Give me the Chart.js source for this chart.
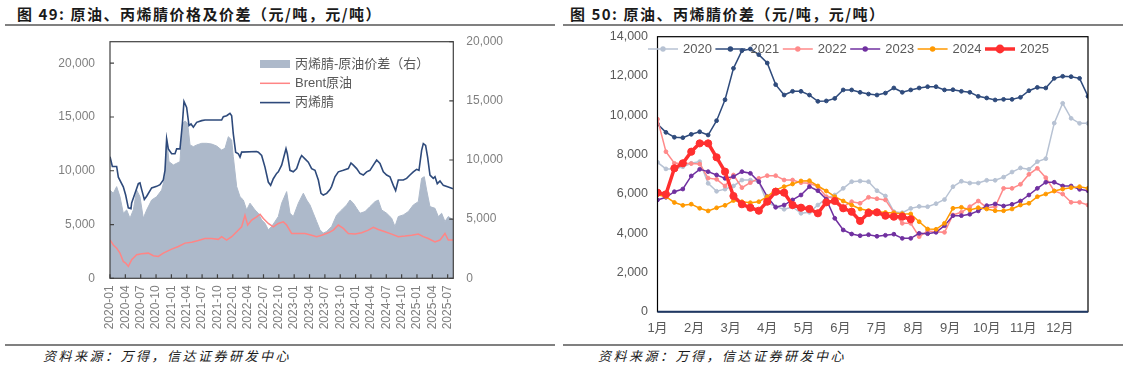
<!DOCTYPE html>
<html>
<head>
<meta charset="utf-8">
<script src="https://cdn.jsdelivr.net/npm/chart.js@4.4.1/dist/chart.umd.min.js"></script>
<style>
  body { margin: 0; width: 1123px; height: 369px; background: #fff; position: relative; overflow: hidden; font-family: "Noto Sans CJK SC", sans-serif; }
  .title { position: absolute; top: 4px; font-size: 15px; font-weight: bold; color: #1a1a1a; letter-spacing: 1.5px; line-height: 20px; white-space: nowrap; }
  .rule { position: absolute; height: 2px; background: #808080; }
  .src { position: absolute; top: 347px; font-size: 13px; font-style: italic; color: #1a1a1a; letter-spacing: 2.5px; line-height: 18px; white-space: nowrap; }
  canvas { position: absolute; }
</style>
</head>
<body>
<div class="title" style="left:17px">图 49: 原油、丙烯腈价格及价差（元/吨，元/吨）</div>
<div class="title" style="left:570px">图 50: 原油、丙烯腈价差（元/吨，元/吨）</div>
<div class="rule" style="left:5px; width:550px; top:24px"></div>
<div class="rule" style="left:563px; width:560px; top:24px"></div>
<canvas id="priceChart" width="560" height="315" style="left:0; top:30px"></canvas>
<canvas id="diffChart" width="558" height="317" style="left:565px; top:28px"></canvas>
<div class="rule" style="left:5px; width:550px; top:344px; height:1.5px"></div>
<div class="rule" style="left:563px; width:560px; top:344px; height:1.5px"></div>
<div class="src" style="left:43px">资料来源：万得，信达证券研发中心</div>
<div class="src" style="left:598px">资料来源：万得，信达证券研发中心</div>
<script>
// ---- 图49: prices (months counted from 2020-01) ----
const dateLabels = ['2020-01', '2020-04', '2020-07', '2020-10', '2021-01', '2021-04', '2021-07', '2021-10',
  '2022-01', '2022-04', '2022-07', '2022-10', '2023-01', '2023-04', '2023-07', '2023-10',
  '2024-01', '2024-04', '2024-07', '2024-10', '2025-01', '2025-04', '2025-07'];
const priceTicks = [0, 5000, 10000, 15000, 20000];
const spreadTicks = [0, 5000, 10000, 15000, 20000];

const acrnMonth = [0, 0.46, 1.3, 1.63, 2.6, 3.06, 3.58, 4.1, 4.23, 4.89, 5.54, 5.86, 6.19, 6.71, 7.17, 8.14, 9.12, 9.77, 10.42, 10.75,
  11.07, 11.4, 12.05, 12.7, 13.03, 13.68, 14.14, 14.46, 14.98, 15.44, 15.83, 16.29, 16.94, 17.92, 18.57, 21.82, 22.15, 22.8, 23.45, 23.78,
  24.1, 24.56, 25.08, 25.41, 25.73, 28.66, 28.99, 29.64, 30.29, 30.94, 31.4, 31.92, 32.57, 32.9, 33.55, 34.4, 34.66, 35.18, 35.83, 36.48,
  37.13, 37.46, 38.11, 38.76, 39.41, 40.07, 40.72, 41.24, 41.69, 42.35, 43.0, 43.32, 43.97, 44.63, 45.6, 46.58, 47.1, 47.56, 48.21, 48.86,
  49.51, 50.16, 50.81, 51.47, 52.12, 52.77, 53.42, 54.07, 54.72, 55.37, 55.83, 56.35, 57.33, 57.98, 58.63, 59.28, 59.93, 60.39, 60.91, 61.24,
  61.69, 62.08, 62.54, 63.19, 63.52, 63.97, 64.5, 65.15, 66.12, 67.04];
const acrnPrice = [11300, 10400, 10400, 9400, 8500, 7740, 6550, 6480, 7000, 7900, 8800, 8870, 8250, 7330, 7630, 8400, 8550, 8700, 9140, 10040,
  12960, 12030, 11580, 11580, 12030, 12030, 14350, 16450, 15890, 14200, 14350, 14050, 14500, 14660, 14720, 14720, 15030, 15120, 15340, 15120,
  13420, 11730, 11580, 11270, 11730, 11790, 11730, 11420, 10340, 8950, 8640, 9260, 9750, 9900, 10520, 12050, 11580, 10040, 9900, 10200,
  11110, 11420, 11110, 10800, 10200, 10040, 9140, 7900, 7740, 7900, 8250, 8550, 9440, 9900, 10040, 10200, 10720, 10520, 10200, 9750,
  9600, 9900, 10040, 10520, 11000, 10690, 9900, 9600, 9440, 8640, 8150, 9140, 9140, 9290, 9600, 9900, 10130, 10040, 11900, 12520,
  12360, 11270, 9600, 9290, 9440, 8800, 9050, 8640, 8500, 8330];

const brentMonth = [0, 0.65, 1.3, 1.95, 2.6, 3.06, 3.58, 4.23, 5.21, 6.19, 7.49, 8.47, 9.45, 10.42, 12.05, 13.36, 14.66, 15.96, 17.26, 18.57,
  19.87, 21.17, 21.82, 22.8, 23.78, 24.76, 25.73, 26.38, 26.91, 27.69, 28.66, 29.32, 29.97, 30.94, 31.92, 32.9, 33.88, 34.53, 35.5, 36.81,
  38.11, 39.41, 40.39, 41.37, 42.67, 43.65, 44.63, 45.6, 46.58, 47.88, 49.19, 50.49, 51.47, 52.44, 53.75, 55.05, 56.35, 57.65, 58.96, 60.26,
  61.24, 62.21, 63.52, 64.5, 65.47, 66.12, 67.04];
const brentPrice = [3560, 3100, 2800, 2340, 1570, 1420, 1110, 1720, 2190, 2280, 2340, 2100, 2030, 2340, 2710, 2960, 3270, 3360, 3520, 3700,
  3700, 3620, 3870, 3560, 3870, 4330, 4790, 5870, 4950, 5410, 5720, 5960, 5560, 5100, 4790, 5100, 5250, 4950, 4170, 4170,
  4170, 4010, 3870, 4010, 4230, 4480, 4950, 4640, 4170, 4110, 4230, 4480, 4730, 4540, 4330, 4110, 3870, 3930, 4010, 4110,
  3870, 3700, 3390, 3560, 4170, 3560, 3560];

const spreadMonth = [0, 0.65, 1.3, 1.95, 2.6, 3.26, 3.91, 4.56, 5.21, 5.86, 6.51, 7.17, 8.14, 9.12, 10.1, 10.75, 11.07, 11.53, 12.38, 13.03,
  13.68, 14.14, 14.66, 15.18, 15.64, 16.29, 16.94, 17.92, 18.89, 19.87, 20.85, 21.82, 22.48, 23.13, 23.78, 24.1, 24.76, 25.41, 26.06, 26.71,
  27.36, 28.34, 28.99, 29.64, 30.29, 30.94, 31.6, 32.25, 32.9, 33.55, 34.53, 35.18, 35.83, 36.81, 37.79, 38.44, 39.09, 39.74, 40.39, 41.04,
  41.69, 42.35, 43.32, 44.3, 45.28, 46.25, 46.91, 47.56, 48.21, 48.86, 49.84, 50.81, 51.79, 52.44, 53.09, 54.07, 55.05, 55.7, 56.35, 57.33,
  58.31, 59.28, 60.26, 60.91, 61.43, 61.89, 62.54, 63.52, 64.17, 64.82, 65.47, 66.12, 67.04];
const spreadValue = [7460, 7190, 7750, 6900, 5500, 5780, 5080, 5780, 7460, 6900, 5080, 5780, 6620, 6900, 7460, 8590, 11830, 9860, 9580, 9720,
  9860, 13090, 13300, 13100, 11270, 11130, 11270, 11410, 11410, 11350, 11180, 10840, 10990, 11970, 11690, 10280, 7750, 6900, 6620, 5780,
  6350, 5780, 5500, 4940, 4660, 4100, 4380, 4800, 5220, 6350, 7330, 5500, 5220, 6350, 7190, 6620, 6200, 5500, 4800, 4100,
  3820, 3960, 4380, 5360, 5780, 6200, 6620, 6350, 5920, 5500, 5640, 6060, 6480, 6620, 5780, 5500, 5080, 4380, 5220, 5360,
  5640, 6200, 6480, 8450, 8590, 7460, 6060, 5920, 5220, 5500, 4800, 5220, 4940];

// ---- 图50: weekly spread by year ----
const monthLabels = ['1月', '2月', '3月', '4月', '5月', '6月', '7月', '8月', '9月', '10月', '11月', '12月'];
const weeksPerMonth = 52 / 12;
const diffTicks = [0, 2000, 4000, 6000, 8000, 10000, 12000, 14000];
const years = ['2020', '2021', '2022', '2023', '2024', '2025'];
const y2020 = [7605, 7270, 7270, 7380, 7555, 7640, 6535, 6130, 6240, 6400, 6700, 6700, 6620, 5550, 5350, 5215, 5330, 5010, 5060, 5430,
  5770, 5940, 6280, 6620, 6650, 6620, 6160, 5890, 5090, 5040, 5260, 5360, 5345, 5500, 5710, 6365, 6640, 6550, 6550, 6690,
  6690, 6850, 7110, 7320, 7250, 7640, 7790, 9600, 10610, 9845, 9590, 9590];
const y2021 = [9550, 9130, 8880, 8860, 9030, 9160, 8995, 9725, 10790, 12390, 13290, 13375, 13085, 12660, 11560, 11030, 11220, 11220, 11030, 10710,
  10730, 10860, 11290, 11290, 11170, 11080, 11030, 11130, 11390, 11170, 11290, 11390, 11455, 11455, 11290, 11300, 11220, 11170, 10965, 10880,
  10780, 10810, 10810, 10915, 11250, 11420, 11390, 11880, 11985, 11965, 11880, 10965];
const y2022 = [9800, 8145, 7555, 7555, 7540, 7520, 6800, 6740, 6400, 6960, 6315, 6570, 6790, 6925, 6925, 6705, 6705, 6570, 6535, 6365,
  5855, 5770, 5345, 5600, 5520, 5825, 5750, 5690, 5060, 4500, 4500, 3820, 4110, 4075, 4040, 4925, 5060, 5345, 5635, 5295,
  5345, 6280, 6280, 6485, 6995, 7300, 6820, 6145, 5990, 5570, 5570, 5430];
const y2023 = [5690, 5825, 6110, 6245, 6910, 7250, 7130, 6960, 6790, 6875, 7130, 7045, 6620, 5855, 5315, 5430, 5690, 5940, 6365, 6160,
  5720, 4755, 4160, 3955, 3870, 3920, 3840, 3890, 3945, 3735, 3735, 3990, 3970, 4040, 4380, 4890, 4890, 4960, 5130, 5400,
  5485, 5380, 5465, 5635, 5940, 6280, 6590, 6590, 6400, 6400, 6230, 6160];
const y2024 = [5950, 5855, 5560, 5415, 5475, 5265, 5130, 5290, 5415, 5660, 5600, 5550, 5600, 5855, 6195, 6365, 6500, 6655, 6670, 6400,
  6145, 5855, 5635, 5430, 5230, 5150, 5100, 5050, 5030, 4990, 4980, 4580, 4210, 4195, 4500, 5265, 5315, 5180, 5295, 5230,
  5140, 5140, 5230, 5430, 5520, 5855, 5990, 6145, 6245, 6315, 6365, 6280];
const y2025 = [6060, 5975, 7300, 7555, 8145, 8570, 8570, 7860, 7130, 5890, 5470, 5295, 5140, 5600, 6110, 6060, 5430, 5295, 5230, 5010,
  5570, 5635, 5265, 5090, 4620, 5030, 5060, 4890, 4840, 4840, 4705];

const yearSeries = [y2020, y2021, y2022, y2023, y2024, y2025];
const yearColors = ['#b7c2d3', '#2f4b7c', '#ff8a8a', '#7030a0', '#ff9900', '#ff2f2f'];

Chart.defaults.font.family = 'Arial, "Liberation Sans", "Noto Sans CJK SC", sans-serif';
Chart.defaults.font.size = 12;

const pts = (xs, ys) => ys.map((y, i) => ({ x: xs[i], y }));
const fmt = v => v.toLocaleString('en-US');
// fixed axis size; drop the label overhang so layout.padding alone sets the plot top
const fixWidth = w => s => { s.width = w; s.paddingTop = 0; s.paddingBottom = 0; };

// frame, inward tick marks and legend for the left chart
const priceDecor = {
  id: 'priceDecor',
  afterDraw(chart) {
    const { ctx, chartArea: a, scales } = chart;
    ctx.save();
    ctx.strokeStyle = '#404040';
    ctx.lineWidth = 1.2;
    ctx.strokeRect(a.left, a.top, a.right - a.left, a.bottom - a.top);
    ctx.beginPath();
    scales.x.ticks.forEach(t => {
      const px = scales.x.getPixelForValue(t.value);
      ctx.moveTo(px, a.bottom); ctx.lineTo(px, a.bottom - 4);
    });
    scales.y.ticks.forEach(t => {
      const py = scales.y.getPixelForValue(t.value);
      ctx.moveTo(a.left, py); ctx.lineTo(a.left + 4, py);
    });
    scales.y2.ticks.forEach(t => {
      const py = scales.y2.getPixelForValue(t.value);
      ctx.moveTo(a.right, py); ctx.lineTo(a.right - 4, py);
    });
    ctx.stroke();

    ctx.font = '13px Arial, "Noto Sans CJK SC", sans-serif';
    ctx.textBaseline = 'middle';
    chart.data.datasets.forEach((d, i) => {
      const x = a.left + 150;
      const y = a.top + 22.3 + i * 19.3;
      if (d.fill) {
        ctx.fillStyle = d.backgroundColor;
        ctx.fillRect(x, y - 4, 30, 8);
      } else {
        ctx.strokeStyle = d.borderColor;
        ctx.lineWidth = d.borderWidth;
        ctx.beginPath(); ctx.moveTo(x, y); ctx.lineTo(x + 30, y); ctx.stroke();
      }
      ctx.fillStyle = '#595959';
      ctx.fillText(d.label, x + 35, y);
    });
    ctx.restore();
  }
};

new Chart(document.getElementById('priceChart'), {
  type: 'line',
  data: {
    datasets: [
      { label: '丙烯腈-原油价差（右）', data: pts(spreadMonth, spreadValue), yAxisID: 'y2', fill: 'origin',
        backgroundColor: '#adb9ca', borderColor: '#adb9ca', borderWidth: 1, pointRadius: 0, order: 2 },
      { label: 'Brent原油', data: pts(brentMonth, brentPrice), yAxisID: 'y', fill: false,
        borderColor: '#ff8585', borderWidth: 1.5, pointRadius: 0, order: 1 },
      { label: '丙烯腈', data: pts(acrnMonth, acrnPrice), yAxisID: 'y', fill: false,
        borderColor: '#2e4a7b', borderWidth: 1.6, pointRadius: 0, order: 0 }
    ]
  },
  options: {
    responsive: false, animation: false, events: [],
    layout: { padding: { top: 11.7, left: 0, right: 0, bottom: 0 } },
    plugins: { legend: { display: false }, tooltip: { enabled: false } },
    scales: {
      x: {
        type: 'linear', min: 0, max: 67.1,
        grid: { display: false, drawTicks: false }, border: { display: false },
        afterBuildTicks: s => { s.ticks = dateLabels.map((_, i) => ({ value: i * 3 })); },
        afterFit: s => { s.height = 66.7; },
        ticks: { autoSkip: false, minRotation: 90, maxRotation: 90, padding: 7, color: '#7f7f7f',
          callback: (v, i) => dateLabels[i] }
      },
      y: {
        position: 'left', min: 0, max: 22000,
        grid: { display: false, drawTicks: false }, border: { display: false },
        afterBuildTicks: s => { s.ticks = priceTicks.map(v => ({ value: v })); },
        afterFit: fixWidth(110),
        ticks: { padding: 15, color: '#7f7f7f', callback: fmt }
      },
      y2: {
        position: 'right', min: 0, max: 20000,
        grid: { display: false, drawTicks: false }, border: { display: false },
        afterBuildTicks: s => { s.ticks = spreadTicks.map(v => ({ value: v })); },
        afterFit: fixWidth(106.7),
        ticks: { padding: 13, color: '#7f7f7f', callback: fmt }
      }
    }
  },
  plugins: [priceDecor]
});

// frame and legend for the right chart
const diffDecor = {
  id: 'diffDecor',
  afterDraw(chart) {
    const { ctx, chartArea: a } = chart;
    ctx.save();
    ctx.strokeStyle = '#000';
    ctx.lineWidth = 1.2;
    ctx.strokeRect(a.left, a.top, a.right - a.left, a.bottom - a.top);
    ctx.strokeStyle = '#1f3864';
    ctx.lineWidth = 2;
    ctx.beginPath(); ctx.moveTo(a.left, a.bottom); ctx.lineTo(a.right, a.bottom); ctx.stroke();

    ctx.font = '13px Arial, "Noto Sans CJK SC", sans-serif';
    ctx.textBaseline = 'middle';
    chart.data.datasets.forEach((d, i) => {
      const x = a.left - 9.5 + i * 67.4;
      const y = a.top + 12.3;
      ctx.strokeStyle = d.borderColor;
      ctx.lineWidth = d.borderWidth;
      ctx.beginPath(); ctx.moveTo(x, y); ctx.lineTo(x + 30, y); ctx.stroke();
      ctx.fillStyle = d.backgroundColor;
      ctx.beginPath(); ctx.arc(x + 15, y, d.pointRadius + 0.8, 0, Math.PI * 2); ctx.fill();
      ctx.fillStyle = '#595959';
      ctx.fillText(d.label, x + 35, y);
    });
    ctx.restore();
  }
};

new Chart(document.getElementById('diffChart'), {
  type: 'line',
  data: {
    datasets: years.map((yr, k) => ({
      label: yr,
      data: yearSeries[k].map((v, i) => ({ x: i, y: v })),
      borderColor: yearColors[k],
      backgroundColor: yearColors[k],
      borderWidth: k === 5 ? 3.5 : 1.5,
      pointRadius: k === 5 ? 3.6 : 1.9,
      pointBorderWidth: 1,
      fill: false,
      order: 5 - k
    }))
  },
  options: {
    responsive: false, animation: false, events: [],
    layout: { padding: { top: 8.7, left: 0, right: 35, bottom: 0 } },
    plugins: { legend: { display: false }, tooltip: { enabled: false } },
    scales: {
      x: {
        type: 'linear', min: 0, max: 51,
        grid: { display: false, drawTicks: false }, border: { display: false },
        afterBuildTicks: s => { s.ticks = monthLabels.map((_, i) => ({ value: i * weeksPerMonth })); },
        afterFit: s => { s.height = 33.3; },
        ticks: { autoSkip: false, minRotation: 0, maxRotation: 0, padding: 9, color: '#595959',
          font: { size: 13 }, callback: (v, i) => monthLabels[i] }
      },
      y: {
        min: 0, max: 14000,
        grid: { display: false, drawTicks: false }, border: { display: false },
        afterBuildTicks: s => { s.ticks = diffTicks.map(v => ({ value: v })); },
        afterFit: fixWidth(92.5),
        ticks: { padding: 9.5, color: '#595959', font: { size: 12.5 }, callback: fmt }
      }
    }
  },
  plugins: [diffDecor]
});
</script>
</body>
</html>
